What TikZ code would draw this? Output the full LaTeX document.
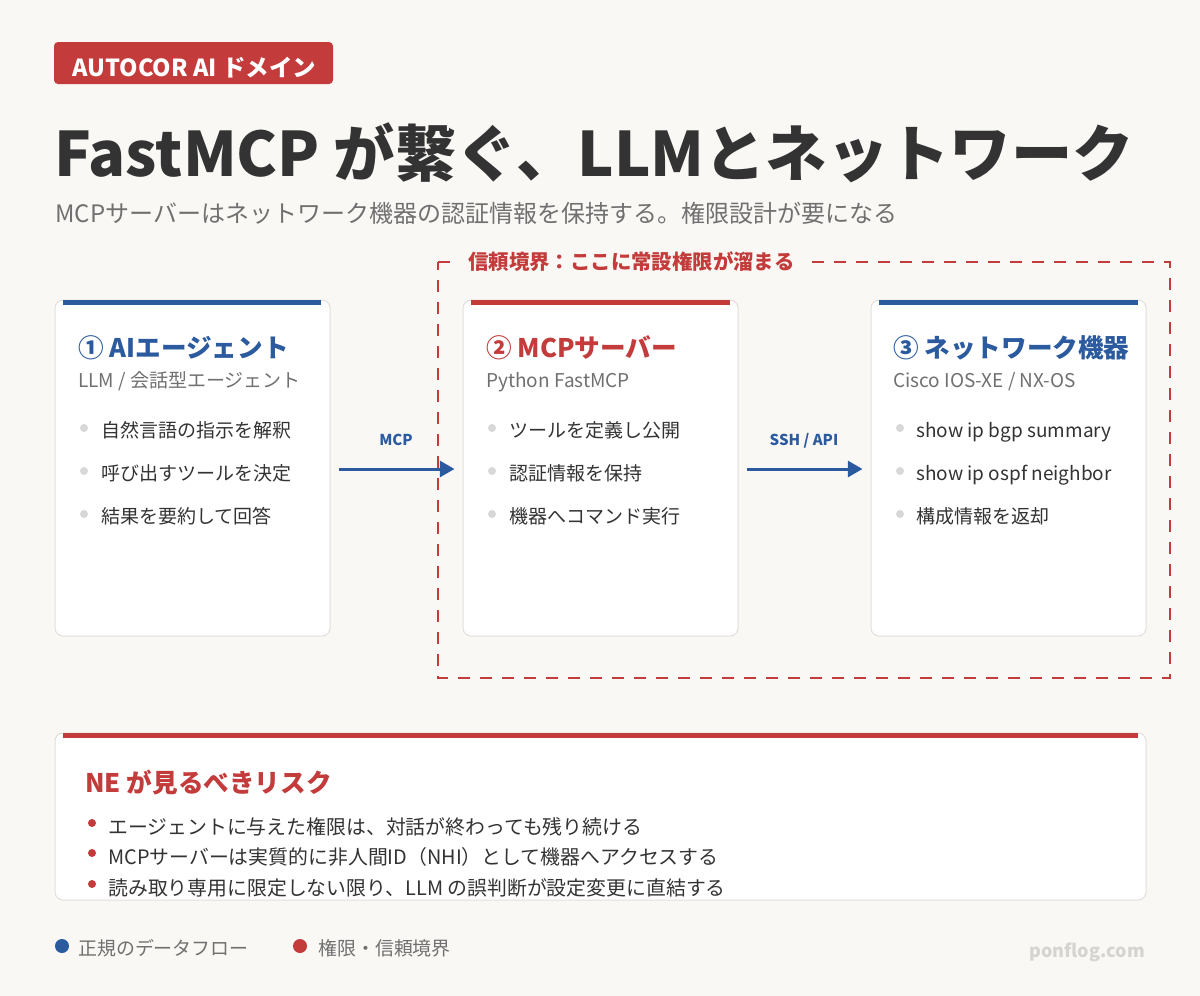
\documentclass[tikz,border=0pt]{standalone}
\usepackage{fontspec}
\setmainfont{Noto Sans CJK JP}
\usetikzlibrary{arrows.meta}
\definecolor{bg}{HTML}{FAF8F5}
\definecolor{myred}{HTML}{C33B3B}
\definecolor{myblue}{HTML}{2C5A9E}
\definecolor{dark}{HTML}{333333}
\definecolor{midgray}{HTML}{707070}
\definecolor{cardline}{HTML}{E2DFDB}
\definecolor{dotgray}{HTML}{D8D8D8}
\definecolor{wmark}{HTML}{D6D4D1}
\newcommand{\pxf}[1]{\fontsize{#1}{#1}\selectfont}
\tikzset{
  txt/.style={anchor=base west, inner sep=0pt},
  card/.style={draw=cardline, line width=0.75pt, fill=white, rounded corners=6pt, minimum width=206.25pt, minimum height=252pt, inner sep=0pt},
  ctitle/.style={txt, font=\bfseries\pxf{19.2pt}},
  csub/.style={txt, font=\pxf{14.25pt}, text=midgray},
  cbul/.style={txt, font=\pxf{14.25pt}, text=dark},
  gdot/.style={circle, fill=dotgray, minimum size=6pt, inner sep=0pt},
  rdot/.style={circle, fill=myred, minimum size=6pt, inner sep=0pt},
  flow/.style={draw=myblue, line width=2.25pt, -{Triangle[length=11pt, width=12pt]}},
  flowlbl/.style={anchor=base, inner sep=0pt, font=\bfseries\pxf{11.25pt}, text=myblue},
  rbul/.style={txt, font=\pxf{14.9pt}, text=dark},
  legtxt/.style={txt, font=\pxf{14.2pt}, text=midgray},
}
\begin{document}
\begin{tikzpicture}[x=0.75pt, y=-0.75pt]
\fill[bg] (0,0) rectangle (1200,996);
\useasboundingbox (0,0) rectangle (1200,996);

% tag
\fill[myred, rounded corners=3pt] (54,42) rectangle (333,84);
\node[txt, font=\bfseries\pxf{17.6pt}, text=white] (tag) at (72,76) {AUTOCOR AI ドメイン};

% title and subtitle
\node[txt, font=\bfseries\pxf{46pt}, text=dark] (title) at (54,176) {FastMCP が繋ぐ、LLMとネットワーク};
\node[txt, font=\pxf{18pt}, text=midgray] (subtitle) at (55,222) {MCPサーバーはネットワーク機器の認証情報を保持する。権限設計が要になる};

% trust boundary
\draw[myred, line width=1.5pt, dash pattern=on 9pt off 7.5pt] (438,262) -- (1170,262) -- (1170,678) -- (438,678) -- cycle;
\node[anchor=base west, fill=bg, inner xsep=9pt, inner ysep=3pt, font=\bfseries\pxf{15.3pt}, text=myred] (trust) at (456,269) {信頼境界：ここに常設権限が溜まる};

% cards
\node[card] (c1) at (192.5,468) {};
\node[card] (c2) at (600.5,468) {};
\node[card] (c3) at (1008.5,468) {};
\fill[myblue] (63,300) rectangle (321,305);
\fill[myred] (471,300) rectangle (730,305);
\fill[myblue] (879,300) rectangle (1138,305);

% card 1
\node[ctitle, text=myblue] (t1) at (78,357) {① AIエージェント};
\node[csub] (s1) at (78,387) {LLM / 会話型エージェント};
\node[gdot] (d11) at (84,428) {};
\node[gdot] (d12) at (84,471) {};
\node[gdot] (d13) at (84,514) {};
\node[cbul] (b11) at (101,437) {自然言語の指示を解釈};
\node[cbul] (b12) at (101,480) {呼び出すツールを決定};
\node[cbul] (b13) at (101,523) {結果を要約して回答};

% card 2
\node[ctitle, text=myred] (t2) at (486,357) {② MCPサーバー};
\node[csub] (s2) at (486,387) {Python FastMCP};
\node[gdot] (d21) at (492,428) {};
\node[gdot] (d22) at (492,471) {};
\node[gdot] (d23) at (492,514) {};
\node[cbul] (b21) at (509,437) {ツールを定義し公開};
\node[cbul] (b22) at (509,480) {認証情報を保持};
\node[cbul] (b23) at (509,523) {機器へコマンド実行};

% card 3
\node[ctitle, text=myblue] (t3) at (893,357) {③ ネットワーク機器};
\node[csub] (s3) at (893,387) {Cisco IOS-XE / NX-OS};
\node[gdot] (d31) at (900,428) {};
\node[gdot] (d32) at (900,471) {};
\node[gdot] (d33) at (900,514) {};
\node[cbul] (b31) at (916,437) {show ip bgp summary};
\node[cbul] (b32) at (916,480) {show ip ospf neighbor};
\node[cbul] (b33) at (916,523) {構成情報を返却};

% arrows
\draw[flow] ([xshift=6pt,yshift=-0.75pt]c1.east) -- ([xshift=-6pt,yshift=-0.75pt]c2.west);
\draw[flow] ([xshift=6pt,yshift=-0.75pt]c2.east) -- ([xshift=-6pt,yshift=-0.75pt]c3.west);
\node[flowlbl] (l1) at (396,445) {MCP};
\node[flowlbl] (l2) at (804,445) {SSH / API};

% risk card
\node[card, minimum width=818.25pt, minimum height=125.25pt] (risk) at (600.5,816.5) {};
\fill[myred] (63,733) rectangle (1138,738);
\node[txt, font=\bfseries\pxf{19.2pt}, text=myred] (rt) at (85,792) {NE が見るべきリスク};
\node[rdot] (r1) at (92,823) {};
\node[rdot] (r2) at (92,853) {};
\node[rdot] (r3) at (92,884) {};
\node[rbul] (rb1) at (108,834) {エージェントに与えた権限は、対話が終わっても残り続ける};
\node[rbul] (rb2) at (108,864) {MCPサーバーは実質的に非人間ID（NHI）として機器へアクセスする};
\node[rbul] (rb3) at (108,895) {読み取り専用に限定しない限り、LLM の誤判断が設定変更に直結する};

% legend
\node[circle, fill=myblue, minimum size=10.5pt, inner sep=0pt] (lg1) at (62,946) {};
\node[legtxt] (lt1) at (78,955) {正規のデータフロー};
\node[circle, fill=myred, minimum size=10.5pt, inner sep=0pt] (lg2) at (300,946) {};
\node[legtxt] (lt2) at (318,955) {権限・信頼境界};
\node[anchor=base east, inner sep=0pt, font=\bfseries\pxf{13.5pt}, text=wmark] (wm) at (1145,957) {ponflog.com};
\end{tikzpicture}
\end{document}
